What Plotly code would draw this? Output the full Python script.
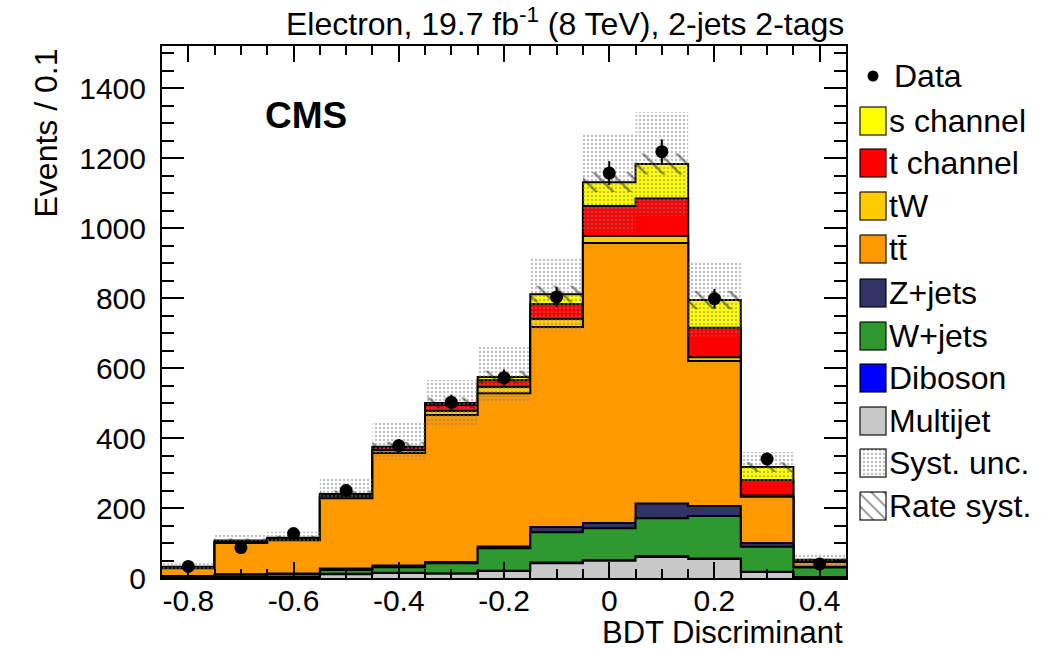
import numpy as np
import plotly.graph_objects as go

W, H = 1048, 651

# ---------------- data ----------------
bin_centers = [-0.8, -0.7, -0.6, -0.5, -0.4, -0.3, -0.2, -0.1, 0.0, 0.1, 0.2, 0.3, 0.4]
bin_width = 0.1

multijet = [2, 3, 3, 11, 14, 12, 20, 42, 49, 60, 54, 17, 3]
diboson  = [0, 0, 0, 1, 1, 1, 1, 2, 2, 2, 2, 1, 0]
wjets    = [3, 6, 8, 11, 16, 29, 64, 87, 91, 109, 121, 71, 27]
zjets    = [1, 2, 2, 4, 5, 4, 5, 15, 15, 42, 29, 11, 2]
ttbar    = [22, 89, 95, 201, 321, 420, 438, 571, 800, 744, 414, 132, 14]
tw       = [1, 2, 2, 5, 8, 11, 18, 23, 20, 20, 11, 4, 2]
tchan    = [2, 3, 3, 5, 8, 17, 20, 43, 86, 107, 84, 44, 2]
schan    = [1, 2, 2, 2, 2, 6, 8, 28, 68, 99, 79, 37, 2]

data     = [33, 87, 127, 250, 378, 502, 572, 803, 1157, 1218, 798, 340, 40]
data_err = [6, 9, 11, 16, 19, 22, 24, 28, 34, 35, 28, 18, 6]

syst_up   = [42, 123, 132, 285, 443, 566, 660, 917, 1271, 1331, 900, 360, 70]
syst_down = [25, 100, 103, 222, 337, 437, 503, 705, 990, 1035, 690, 275, 35]
rate_unc  = [3, 6, 6, 10, 14, 16, 18, 24, 28, 30, 26, 14, 4]

x_tickvals = [-0.8, -0.6, -0.4, -0.2, 0.0, 0.2, 0.4]
x_ticktext = ["-0.8", "-0.6", "-0.4", "-0.2", "0", "0.2", "0.4"]
y_tickvals = [0, 200, 400, 600, 800, 1000, 1200, 1400]

# processes, bottom -> top of stack
proc_names  = ["Multijet", "Diboson", "W+jets", "Z+jets", "tt\u0304", "tW", "t channel", "s channel"]
proc_values = [multijet, diboson, wjets, zjets, ttbar, tw, tchan, schan]
proc_colors = ["#C8C8C8", "#0000FF", "#2E992E", "#313265", "#FF9900", "#FFCC00", "#FF0000", "#FFFF00"]

FONT = "Liberation Sans, Arial, Helvetica, sans-serif"

# ---------------- geometry ----------------
PL, PR, PT, PB = 162, 846, 46, 578   # plot area in pixels

centers = np.array(bin_centers)
edges = np.append(centers - bin_width / 2, centers[-1] + bin_width / 2)


def step(vals):
    v = np.asarray(vals, dtype=float)
    return np.append(v, v[-1])


fig = go.Figure()

cum = np.cumsum(np.array(proc_values, dtype=float), axis=0)
# draw from the top of the stack downwards (ROOT-like overdraw)
for i in range(len(proc_values) - 1, -1, -1):
    fig.add_trace(go.Scatter(
        x=edges, y=step(cum[i]), mode="lines", line=dict(shape="hv", color="black", width=2),
        fill="tozeroy", fillcolor=proc_colors[i], hoverinfo="skip", showlegend=False))

total = cum[-1]

# systematic uncertainty band (dotted)
fig.add_trace(go.Scatter(x=edges, y=step(syst_down), mode="lines",
                         line=dict(shape="hv", width=0, color="rgba(0,0,0,0)"),
                         hoverinfo="skip", showlegend=False))
fig.add_trace(go.Scatter(x=edges, y=step(syst_up), mode="lines",
                         line=dict(shape="hv", width=0, color="rgba(0,0,0,0)"),
                         fill="tonexty", fillcolor="rgba(0,0,0,0)",
                         fillpattern=dict(shape=".", fgcolor="#808080", bgcolor="rgba(0,0,0,0)",
                                          size=4, solidity=0.3),
                         hoverinfo="skip", showlegend=False))

# rate systematic band (hatched)
rate_lo = total - np.array(rate_unc)
rate_hi = total + np.array(rate_unc)
fig.add_trace(go.Scatter(x=edges, y=step(rate_lo), mode="lines",
                         line=dict(shape="hv", width=0, color="rgba(0,0,0,0)"),
                         hoverinfo="skip", showlegend=False))
fig.add_trace(go.Scatter(x=edges, y=step(rate_hi), mode="lines",
                         line=dict(shape="hv", width=0, color="rgba(0,0,0,0)"),
                         fill="tonexty", fillcolor="rgba(0,0,0,0)",
                         fillpattern=dict(shape="\\", fgcolor="#1a1a1a", bgcolor="rgba(0,0,0,0)",
                                          size=12, solidity=0.2),
                         hoverinfo="skip", showlegend=False))

# data
fig.add_trace(go.Scatter(
    x=centers, y=data, mode="markers",
    marker=dict(color="black", size=13, symbol="circle"),
    error_y=dict(type="data", array=data_err, color="black", thickness=2, width=0),
    hoverinfo="skip", showlegend=False))

# ---------------- legend (drawn on a pixel-coordinate helper axis) ----------------
LX0 = 850
leg_centers = [76, 121, 163, 206, 249, 293, 336, 378, 421, 463, 506]
leg_labels = ["Data", "s channel", "t channel", "tW", "tt\u0304", "Z+jets", "W+jets",
              "Diboson", "Multijet", "Syst. unc.", "Rate syst."]
leg_colors = ["#FFFF00", "#FF0000", "#FFCC00", "#FF9900", "#313265", "#2E992E", "#0000FF", "#C8C8C8"]

bx0, bx1, bh = 860, 886, 28

fig.add_trace(go.Scatter(x=[873], y=[leg_centers[0]], mode="markers",
                         marker=dict(color="black", size=11), xaxis="x2", yaxis="y2",
                         hoverinfo="skip", showlegend=False))
for k in range(1, 11):
    yc = leg_centers[k]
    rx = [bx0, bx1, bx1, bx0, bx0]
    ry = [yc - bh / 2, yc - bh / 2, yc + bh / 2, yc + bh / 2, yc - bh / 2]
    if k <= 8:
        fig.add_trace(go.Scatter(x=rx, y=ry, mode="lines", fill="toself",
                                 fillcolor=leg_colors[k - 1],
                                 line=dict(color="rgba(0,0,0,0.75)", width=1.5),
                                 xaxis="x2", yaxis="y2", hoverinfo="skip", showlegend=False))
    elif k == 9:
        fig.add_trace(go.Scatter(x=rx, y=ry, mode="lines", fill="toself", fillcolor="white",
                                 fillpattern=dict(shape=".", fgcolor="#808080", bgcolor="white",
                                                  size=4, solidity=0.3),
                                 line=dict(color="rgba(0,0,0,0.75)", width=1.5),
                                 xaxis="x2", yaxis="y2", hoverinfo="skip", showlegend=False))
    else:
        fig.add_trace(go.Scatter(x=rx, y=ry, mode="lines", fill="toself", fillcolor="white",
                                 fillpattern=dict(shape="\\", fgcolor="#111111", bgcolor="white",
                                                  size=9, solidity=0.18),
                                 line=dict(color="rgba(0,0,0,0.75)", width=1.5),
                                 xaxis="x2", yaxis="y2", hoverinfo="skip", showlegend=False))

annotations = []
for k, lab in enumerate(leg_labels):
    annotations.append(dict(x=892 if k == 0 else 887, y=leg_centers[k], xref="x2", yref="y2",
                            text=lab, showarrow=False, xanchor="left", yanchor="middle",
                            font=dict(family=FONT, size=32, color="black")))

# titles
annotations.append(dict(x=846 / W, y=1 - 22 / H, xref="paper", yref="paper",
                        text="Electron, 19.7 fb<sup>-1</sup> (8 TeV), 2-jets 2-tags",
                        showarrow=False, xanchor="right", yanchor="middle",
                        font=dict(family=FONT, size=32, color="black")))
annotations.append(dict(x=263 / W, y=1 - 116 / H, xref="paper", yref="paper",
                        text="<b>CMS</b>", showarrow=False, xanchor="left", yanchor="middle",
                        font=dict(family=FONT, size=37, color="black")))
annotations.append(dict(x=845 / W, y=1 - 632 / H, xref="paper", yref="paper",
                        text="BDT Discriminant", showarrow=False, xanchor="right", yanchor="middle",
                        font=dict(family=FONT, size=31, color="black")))
annotations.append(dict(x=45 / W, y=1 - 47 / H, xref="paper", yref="paper",
                        text="Events / 0.1", textangle=-90, showarrow=False,
                        xanchor="center", yanchor="top",
                        font=dict(family=FONT, size=32, color="black")))

fig.update_layout(
    width=W, height=H, autosize=False,
    margin=dict(l=0, r=0, t=0, b=0),
    paper_bgcolor="white", plot_bgcolor="rgba(0,0,0,0)",
    showlegend=False,
    annotations=annotations,
    xaxis=dict(domain=[PL / W, PR / W], range=[edges[0], edges[-1]],
               tickvals=x_tickvals, ticktext=x_ticktext,
               ticks="inside", ticklen=16, tickwidth=2, tickcolor="black",
               minor=dict(dtick=0.05, tick0=0, ticks="inside", ticklen=9, tickwidth=1.5,
                          tickcolor="black", showgrid=False),
               showline=True, linewidth=2, linecolor="black", mirror="allticks",
               showgrid=False, zeroline=False, automargin=False,
               ticklabelstandoff=-5,
               tickfont=dict(family=FONT, size=30, color="black")),
    yaxis=dict(domain=[1 - PB / H, 1 - PT / H], range=[0, 1520],
               tickvals=y_tickvals,
               ticks="inside", ticklen=22, tickwidth=2, tickcolor="black",
               minor=dict(dtick=50, tick0=0, ticks="inside", ticklen=12, tickwidth=1.5,
                          tickcolor="black", showgrid=False),
               showline=True, linewidth=2, linecolor="black", mirror="allticks",
               showgrid=False, zeroline=False, automargin=False,
               ticklabelstandoff=8,
               tickfont=dict(family=FONT, size=30, color="black")),
    xaxis2=dict(domain=[LX0 / W, 1], range=[LX0, W], visible=False, anchor="y2",
                fixedrange=True),
    yaxis2=dict(domain=[0, 1], range=[H, 0], visible=False, anchor="x2", fixedrange=True),
)

fig.write_html("out.html")
